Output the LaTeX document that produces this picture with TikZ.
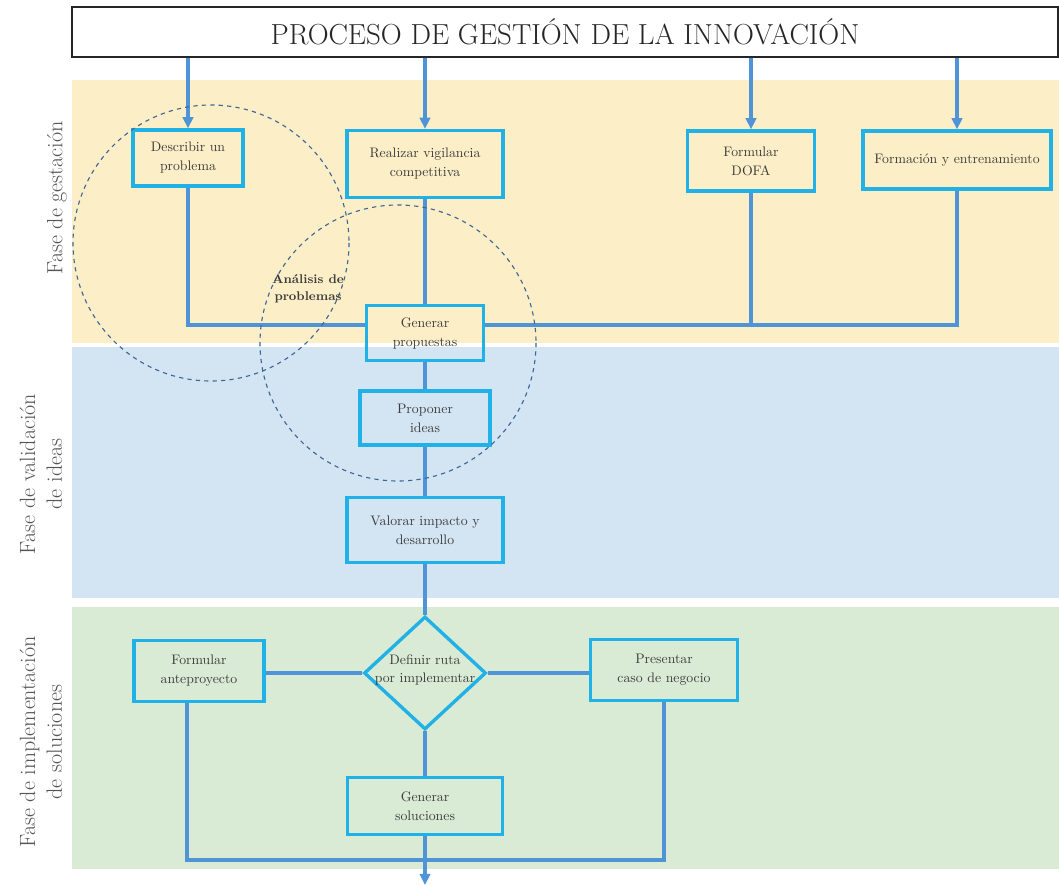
\documentclass[tikz,border=0pt]{standalone}
\usepackage{tikz}
\usetikzlibrary{arrows.meta,shapes.geometric,positioning}
\definecolor{boxcyan}{RGB}{32,178,230}
\definecolor{linkblue}{RGB}{78,148,214}
\definecolor{dashblue}{RGB}{62,102,150}
\definecolor{bandyellow}{RGB}{252,238,198}
\definecolor{bandblue}{RGB}{211,228,243}
\definecolor{bandgreen}{RGB}{217,234,213}
\definecolor{textgray}{RGB}{60,60,60}
\definecolor{labelgray}{RGB}{85,85,85}
\tikzset{
  paso/.style={draw=boxcyan, line width=2.4pt, align=center, text=textgray,
    font=\fontsize{9.8}{13.5}\selectfont, inner sep=2pt},
  decision/.style={paso, diamond, inner sep=0pt},
  conn/.style={draw=linkblue, line width=2.3pt},
  flecha/.style={conn, -{Triangle[width=7.5pt,length=8pt]}},
  circulo/.style={draw=dashblue, dashed, line width=0.8pt},
  fase/.style={rotate=90, align=center, text=labelgray,
    font=\fontsize{15.7}{19}\selectfont},
}

\begin{document}
\begin{tikzpicture}[x=0.025cm, y=-0.025cm]
    \useasboundingbox (0,0) rectangle (1059,885);

    % bandas de fase
    \fill [bandyellow] (72,80) rectangle (1059,343);
    \fill [bandblue] (72,347) rectangle (1059,598);
    \fill [bandgreen] (72,607) rectangle (1059,869);

    \node [fase] (f1) at (57,198) {Fase de gestación};
    \node [fase] (f2) at (41,474) {Fase de validación\\de ideas};
    \node [fase] (f3) at (41,742) {Fase de implementación\\de soluciones};

    % titulo
    \node [draw=black!85, line width=1pt, minimum width=24.65cm, minimum height=1.25cm,
      font=\fontsize{20.6}{22}\selectfont, text=black!85] (title) at (565,32)
      {PROCESO DE GESTIÓN DE LA INNOVACIÓN};

    % fase de gestacion
    \node [paso, minimum width=2.75cm, minimum height=1.4cm] (desc) at (188,158) {Describir un\\problema};
    \node [paso, minimum width=3.9cm, minimum height=1.675cm] (vigil) at (425,164) {Realizar vigilancia\\competitiva};
    \node [paso, minimum width=3.175cm, minimum height=1.5cm] (dofa) at (751,161) {Formular\\DOFA};
    \node [paso, minimum width=4.7cm, minimum height=1.45cm] (form) at (957,160) {Formación y entrenamiento};
    \node [paso, minimum width=2.925cm, minimum height=1.375cm] (prop) at (425,333) {Generar\\propuestas};

    % fase de validacion
    \node [paso, minimum width=3.25cm, minimum height=1.35cm] (ideas) at (425,418) {Proponer\\ideas};
    \node [paso, minimum width=3.9cm, minimum height=1.625cm] (valor) at (425,530) {Valorar impacto y\\desarrollo};

    % fase de implementacion
    \node [decision, minimum width=3.05cm, minimum height=2.825cm] (ruta) at (425,673)
      {\smash{\makebox[0pt]{\begin{tabular}{@{}c@{}}Definir ruta\\[-1pt]por implementar\end{tabular}}}};
    \node [paso, minimum width=3.25cm, minimum height=1.525cm] (antep) at (199,671) {Formular\\anteproyecto};
    \node [paso, minimum width=3.675cm, minimum height=1.525cm] (caso) at (664,670) {Presentar\\caso de negocio};
    \node [paso, minimum width=3.875cm, minimum height=1.425cm] (sol) at (425,806) {Generar\\soluciones};

    \coordinate (bus) at (0,325);
    \coordinate (bl) at (187,860);
    \coordinate (fin) at (425,885);

    % flechas desde el titulo
    \foreach \n in {desc,vigil,dofa,form}
    {
     \draw [flecha] (title.south -| \n.north) -- (\n.north);
    }

    \draw [conn] (desc.south) |- (prop.west |- bus);
    \draw [conn] (prop.east |- bus) -| (form.south);
    \draw [conn] (dofa.south) -- (dofa.south |- bus);
    \draw [conn] (vigil.south) -- (prop.north);
    \draw [conn] (prop.south) -- (ideas.north);
    \draw [conn] (ideas.south) -- (valor.north);
    \draw [conn] (valor.south) -- (ruta.north);
    \draw [conn] (ruta.west) -- (antep.east |- ruta.west);
    \draw [conn] (ruta.east) -- (caso.west |- ruta.east);
    \draw [conn] (ruta.south) -- (sol.north);
    \draw [conn] (antep.south -| bl) -- (bl) -| (caso.south);
    \draw [flecha] (sol.south) -- (fin);

    % analisis de problemas
    \draw [circulo] (211,243) circle (138);
    \draw [circulo] (398,343) circle (138);
    \node [align=center, text=textgray, font=\fontsize{9}{12}\selectfont\bfseries] (anal) at (308,289)
      {Análisis de\\problemas};
    % \draw [circulo] (300,290) circle (60);

\end{tikzpicture}
\end{document}
